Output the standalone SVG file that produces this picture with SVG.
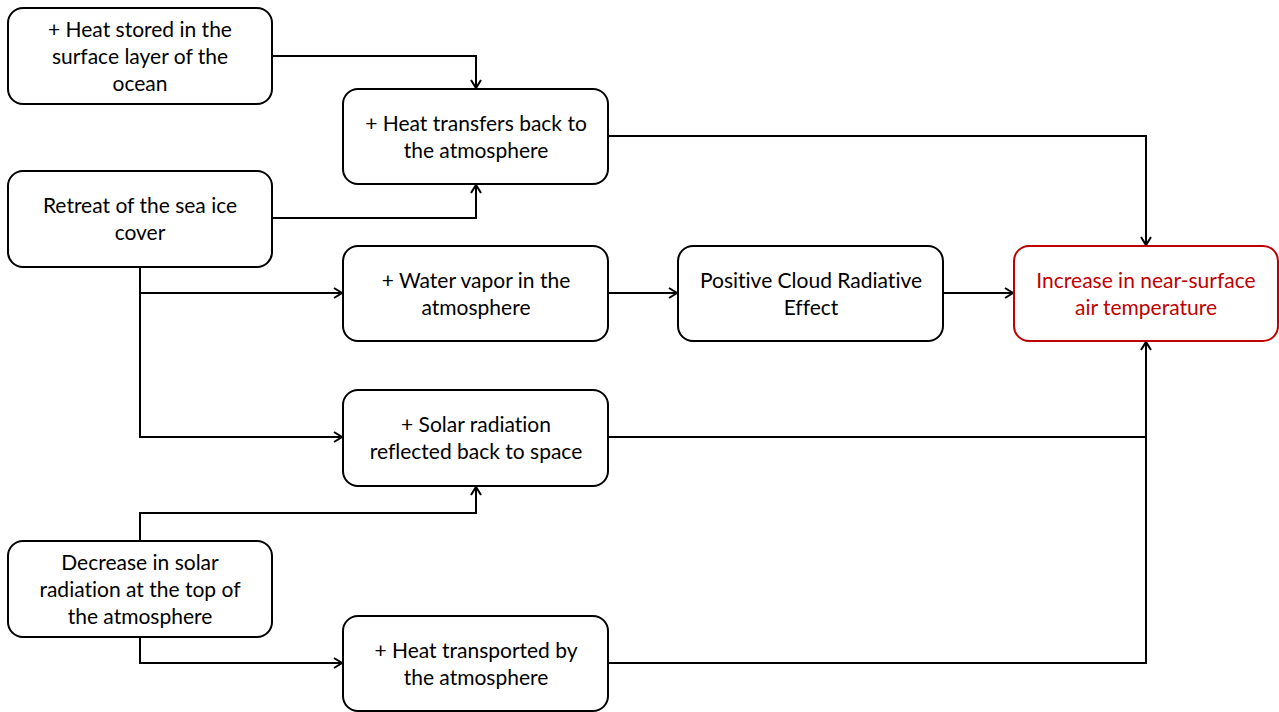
<svg xmlns="http://www.w3.org/2000/svg" width="1279" height="712" viewBox="0 0 1279 712">
<style>
.box{fill:#fff;stroke:#000;stroke-width:2}
.red{stroke:#c00000}
text{font-family:Lato,"Open Sans","Liberation Sans",sans-serif;font-size:21px;text-anchor:middle;fill:#000;font-variant-ligatures:none;font-feature-settings:"liga" 0,"dlig" 0}
.rt{fill:#c00000}
.c{fill:none;stroke:#000;stroke-width:2}
</style>
<defs>
<marker id="a" markerWidth="12" markerHeight="12" refX="9" refY="6" orient="auto" markerUnits="userSpaceOnUse">
<path d="M1,1 L9,6 L1,11" fill="none" stroke="#000" stroke-width="2"/>
</marker>
</defs>
<rect width="1279" height="712" fill="#fff"/>
<g id="connectors">
<path class="c" d="M272,56 H476 V88" marker-end="url(#a)"/>
<path class="c" d="M608,136 H1146 V245" marker-end="url(#a)"/>
<path class="c" d="M272,218 H476 V185" marker-end="url(#a)"/>
<path class="c" d="M140,267 V293 H342" marker-end="url(#a)"/>
<path class="c" d="M140,293 V437 H342" marker-end="url(#a)"/>
<path class="c" d="M608,293 H677" marker-end="url(#a)"/>
<path class="c" d="M943,293 H1013" marker-end="url(#a)"/>
<path class="c" d="M608,437 H1146"/>
<path class="c" d="M608,663 H1146 V342" marker-end="url(#a)"/>
<path class="c" d="M140,541 V513 H476 V487" marker-end="url(#a)"/>
<path class="c" d="M140,637 V663 H342" marker-end="url(#a)"/>
</g>
<g id="n1"><rect class="box" x="8" y="8" width="264" height="96" rx="15"/>
<text x="140" y="37">+ Heat stored in the</text><text x="140" y="64">surface layer of the</text><text x="140" y="91">ocean</text></g>
<g id="n2"><rect class="box" x="343" y="89" width="265" height="95" rx="15"/>
<text x="476" y="131">+ Heat transfers back to</text><text x="476" y="158">the atmosphere</text></g>
<g id="n3"><rect class="box" x="8" y="171" width="264" height="96" rx="15"/>
<text x="140" y="213">Retreat of the sea ice</text><text x="140" y="240">cover</text></g>
<g id="n4"><rect class="box" x="343" y="246" width="265" height="95" rx="15"/>
<text x="476" y="288">+ Water vapor in the</text><text x="476" y="315">atmosphere</text></g>
<g id="n5"><rect class="box" x="678" y="246" width="265" height="95" rx="15"/>
<text x="811" y="288">Positive Cloud Radiative</text><text x="811" y="315">Effect</text></g>
<g id="n6"><rect class="box red" x="1014" y="246" width="264" height="95" rx="15"/>
<text class="rt" x="1146" y="288">Increase in near-surface</text><text class="rt" x="1146" y="315">air temperature</text></g>
<g id="n7"><rect class="box" x="343" y="390" width="265" height="96" rx="15"/>
<text x="476" y="432">+ Solar radiation</text><text x="476" y="459">reflected back to space</text></g>
<g id="n8"><rect class="box" x="8" y="541" width="264" height="96" rx="15"/>
<text x="140" y="570">Decrease in solar</text><text x="140" y="597">radiation at the top of</text><text x="140" y="624">the atmosphere</text></g>
<g id="n9"><rect class="box" x="343" y="616" width="265" height="95" rx="15"/>
<text x="476" y="658">+ Heat transported by</text><text x="476" y="685">the atmosphere</text></g>
</svg>
